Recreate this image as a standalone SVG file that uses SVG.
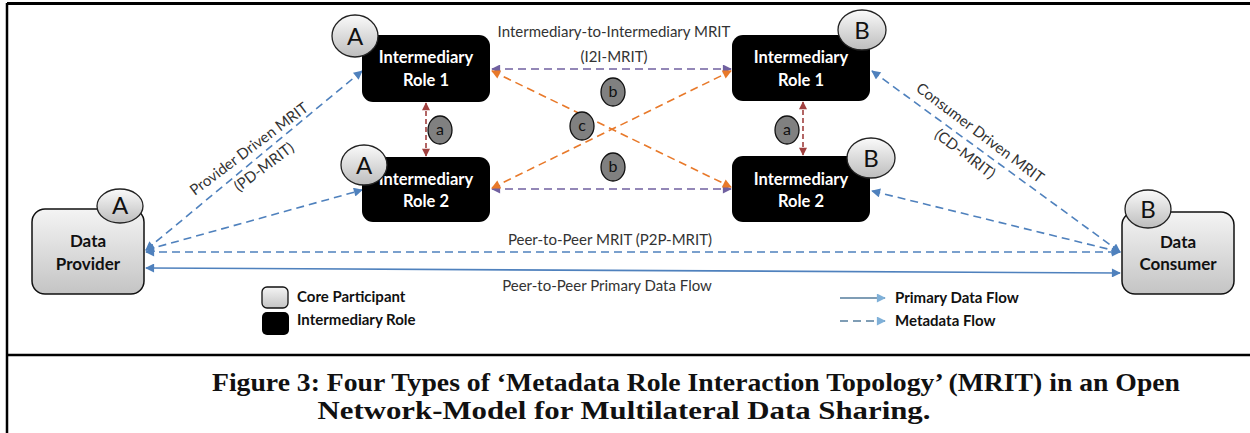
<svg xmlns="http://www.w3.org/2000/svg" width="1250" height="433" viewBox="0 0 1250 433">
<style>
.lbl{font-family:Lato,"Open Sans",sans-serif;font-size:15px;fill:#333;}
.core{font-family:Lato,"Open Sans",sans-serif;font-size:17px;font-weight:bold;fill:#111;text-anchor:middle;}
.inter{font-family:Lato,"Open Sans",sans-serif;font-size:16.5px;font-weight:bold;fill:#fff;text-anchor:middle;}
.letter{font-family:Lato,"Open Sans",sans-serif;font-size:24px;fill:#111;text-anchor:middle;}
.small{font-family:Lato,"Open Sans",sans-serif;font-size:16px;fill:#111;text-anchor:middle;}
.leg{font-family:Lato,"Open Sans",sans-serif;font-size:15px;font-weight:bold;fill:#111;}
.cap{font-family:"Liberation Serif",serif;font-size:25px;font-weight:bold;fill:#111;text-anchor:middle;}
.blue{stroke:#4F81BD;stroke-width:1.6;fill:none;stroke-dasharray:8 5;marker-start:url(#ab);marker-end:url(#ab);}
.bluesolid{stroke:#4F81BD;stroke-width:1.6;fill:none;marker-start:url(#ab);marker-end:url(#ab);}
.purple{stroke:#7060A0;stroke-width:1.6;fill:none;stroke-dasharray:8 5;marker-start:url(#ap);marker-end:url(#ap);}
.orange{stroke:#E8792A;stroke-width:1.6;fill:none;stroke-dasharray:8 5;marker-start:url(#ao);marker-end:url(#ao);}
.red{stroke:#A0403F;stroke-width:1.6;fill:none;stroke-dasharray:5 3;marker-start:url(#ar);marker-end:url(#ar);}
.badge{fill:#808080;stroke:#111;stroke-width:1.3;}
.lettercirc{fill:url(#gc);stroke:#222;stroke-width:1.3;}
.corebox{fill:url(#gb);stroke:#111;stroke-width:1.5;}
</style>
<defs>
<linearGradient id="gb" x1="0" y1="0" x2="0" y2="1"><stop offset="0" stop-color="#f4f4f4"/><stop offset="1" stop-color="#c4c4c4"/></linearGradient>
<linearGradient id="gc" x1="0" y1="0" x2="0" y2="1"><stop offset="0" stop-color="#fafafa"/><stop offset="1" stop-color="#bdbdbd"/></linearGradient>
<marker id="ab" viewBox="0 0 10 10" refX="9" refY="5" markerWidth="10" markerHeight="9" markerUnits="userSpaceOnUse" orient="auto-start-reverse"><path d="M0,0 L10,5 L0,10 z" fill="#4F81BD"/></marker>
<marker id="ap" viewBox="0 0 10 10" refX="9" refY="5" markerWidth="10" markerHeight="9" markerUnits="userSpaceOnUse" orient="auto-start-reverse"><path d="M0,0 L10,5 L0,10 z" fill="#7060A0"/></marker>
<marker id="ao" viewBox="0 0 10 10" refX="9" refY="5" markerWidth="10" markerHeight="9" markerUnits="userSpaceOnUse" orient="auto-start-reverse"><path d="M0,0 L10,5 L0,10 z" fill="#E8792A"/></marker>
<marker id="ar" viewBox="0 0 10 10" refX="9" refY="5" markerWidth="9" markerHeight="8" markerUnits="userSpaceOnUse" orient="auto-start-reverse"><path d="M0,0 L10,5 L0,10 z" fill="#A0403F"/></marker>
<marker id="al" viewBox="0 0 10 10" refX="9" refY="5" markerWidth="10" markerHeight="9" markerUnits="userSpaceOnUse" orient="auto"><path d="M0,0 L10,5 L0,10 z" fill="#7FB0D8"/></marker>
</defs>
<rect x="0" y="0" width="1250" height="433" fill="#fff"/>
<g id="frame" stroke="#000" fill="none">
<line x1="7" y1="3.5" x2="1250" y2="3.5" stroke-width="3"/>
<line x1="7" y1="3" x2="7" y2="433" stroke-width="2.5"/>
<line x1="7" y1="355" x2="1250" y2="355" stroke-width="2.5"/>
</g>
<g id="connectors">
<path class="blue" d="M146,250 L362,71"/>
<path class="blue" d="M146,250 L362,190"/>
<path class="blue" d="M146,252 L1120,252"/>
<path class="bluesolid" d="M146,268 L1120,273"/>
<path class="blue" d="M1120,252 L872,71"/>
<path class="blue" d="M1120,252 L872,191"/>
<path class="purple" d="M492,69 L731,69"/>
<path class="purple" d="M492,189 L731,189"/>
<path class="orange" d="M492,71 L731,187"/>
<path class="orange" d="M492,188 L731,71"/>
<path class="red" d="M426,103 L426,156"/>
<path class="red" d="M803,102 L803,155"/>
</g>
<g id="labels">
<text class="lbl" x="614" y="37" text-anchor="middle">Intermediary-to-Intermediary MRIT</text>
<text class="lbl" x="614" y="62" text-anchor="middle">(I2I-MRIT)</text>
<text class="lbl" text-anchor="middle" transform="translate(252,153) rotate(-37)">Provider Driven MRIT</text>
<text class="lbl" text-anchor="middle" transform="translate(267,171) rotate(-37)">(PD-MRIT)</text>
<text class="lbl" text-anchor="middle" transform="translate(977,137) rotate(37)">Consumer Driven MRIT</text>
<text class="lbl" text-anchor="middle" transform="translate(962,158) rotate(37)">(CD-MRIT)</text>
<text class="lbl" x="610" y="245" text-anchor="middle">Peer-to-Peer MRIT (P2P-MRIT)</text>
<text class="lbl" x="607" y="291" text-anchor="middle">Peer-to-Peer Primary Data Flow</text>
</g>
<g id="provider">
<rect class="corebox" x="32" y="209" width="112" height="85" rx="13"/>
<text class="core" x="88" y="247">Data</text>
<text class="core" x="88" y="270">Provider</text>
<ellipse class="lettercirc" cx="120" cy="206" rx="23" ry="17"/>
<text class="letter" x="120" y="214">A</text>
</g>
<g id="consumer">
<rect class="corebox" x="1122" y="212" width="112" height="82" rx="13"/>
<text class="core" x="1178" y="248">Data</text>
<text class="core" x="1178" y="270">Consumer</text>
<ellipse class="lettercirc" cx="1148" cy="209" rx="23" ry="19"/>
<text class="letter" x="1148" y="218">B</text>
</g>
<g id="intA1">
<rect x="362" y="35" width="128" height="67" rx="11" fill="#000"/>
<text class="inter" x="426" y="63">Intermediary</text>
<text class="inter" x="426" y="86">Role 1</text>
<ellipse class="lettercirc" cx="355" cy="36" rx="23" ry="21"/>
<text class="letter" x="355" y="45">A</text>
</g>
<g id="intA2">
<rect x="362" y="157" width="128" height="65" rx="11" fill="#000"/>
<text class="inter" x="426" y="185">Intermediary</text>
<text class="inter" x="426" y="207">Role 2</text>
<ellipse class="lettercirc" cx="364" cy="165" rx="23" ry="20"/>
<text class="letter" x="364" y="174">A</text>
</g>
<g id="intB1">
<rect x="732" y="35" width="138" height="66" rx="11" fill="#000"/>
<text class="inter" x="801" y="63">Intermediary</text>
<text class="inter" x="801" y="86">Role 1</text>
<ellipse class="lettercirc" cx="862" cy="30" rx="24" ry="20"/>
<text class="letter" x="862" y="39">B</text>
</g>
<g id="intB2">
<rect x="732" y="156" width="138" height="66" rx="11" fill="#000"/>
<text class="inter" x="801" y="185">Intermediary</text>
<text class="inter" x="801" y="207">Role 2</text>
<ellipse class="lettercirc" cx="871" cy="158" rx="24" ry="20"/>
<text class="letter" x="871" y="167">B</text>
</g>
<g id="badges">
<g id="badge-aA"><ellipse class="badge" cx="440" cy="130" rx="12" ry="14"/><text class="small" x="440" y="135">a</text></g>
<g id="badge-aB"><ellipse class="badge" cx="787" cy="130" rx="12" ry="14"/><text class="small" x="787" y="135">a</text></g>
<g id="badge-b1"><ellipse class="badge" cx="613" cy="92" rx="12" ry="14"/><text class="small" x="613" y="97">b</text></g>
<g id="badge-c"><ellipse class="badge" cx="582" cy="126" rx="12" ry="14"/><text class="small" x="582" y="131">c</text></g>
<g id="badge-b2"><ellipse class="badge" cx="613" cy="167" rx="12" ry="14"/><text class="small" x="613" y="172">b</text></g>
</g>
<g id="legend">
<rect x="262" y="287" width="26" height="21" rx="5" fill="url(#gb)" stroke="#111" stroke-width="1.3"/>
<rect x="262" y="312" width="27" height="23" rx="5" fill="#000"/>
<text class="leg" x="297" y="302">Core Participant</text>
<text class="leg" x="297" y="325">Intermediary Role</text>
<line x1="840" y1="298" x2="885" y2="298" stroke="#7F9DB5" stroke-width="1.8" marker-end="url(#al)"/>
<line x1="840" y1="321" x2="885" y2="321" stroke="#7F9DB5" stroke-width="1.8" stroke-dasharray="8 5" marker-end="url(#al)"/>
<text class="leg" x="895" y="303">Primary Data Flow</text>
<text class="leg" x="895" y="326">Metadata Flow</text>
</g>
<g id="caption">
<text class="cap" x="696" y="391" textLength="968" lengthAdjust="spacingAndGlyphs">Figure 3: Four Types of ‘Metadata Role Interaction Topology’ (MRIT) in an Open</text>
<text class="cap" x="624" y="419" textLength="613" lengthAdjust="spacingAndGlyphs">Network-Model for Multilateral Data Sharing.</text>
</g>
</svg>
